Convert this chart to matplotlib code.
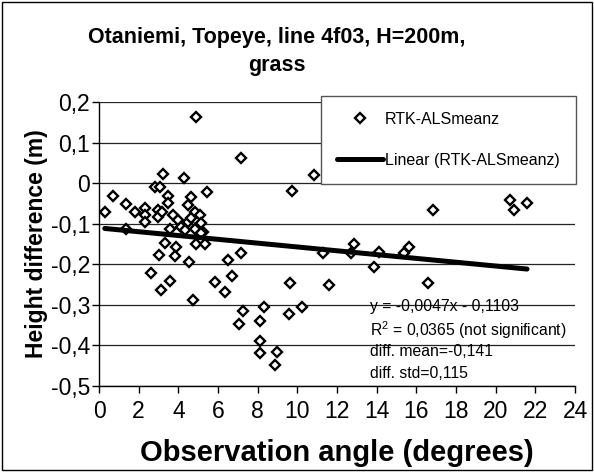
import matplotlib
matplotlib.use("Agg")
import matplotlib.pyplot as plt
from matplotlib.ticker import FuncFormatter, MultipleLocator
from matplotlib.patches import Rectangle
import numpy as np

plt.rcParams['font.family'] = ['Liberation Sans', 'DejaVu Sans']
plt.rcParams['mathtext.fontset'] = 'custom'
plt.rcParams['mathtext.rm'] = 'Liberation Sans'

# observation angle (deg) and RTK-ALS height difference (m)
angle = [0.29, 0.71, 1.38, 1.38, 1.8, 2.3, 2.3, 2.3, 2.8, 3.06,
         3.25, 2.95, 2.95, 3.48, 3.48, 3.2, 3.73, 3.98, 4.27, 4.65,
         4.48, 4.82, 4.9, 5.46, 5.07, 4.48, 5.16, 3.56, 4.15, 4.32,
         4.82, 5.24, 4.65, 3.35, 3.9, 3.81, 3.0, 4.53, 4.9, 5.32,
         5.16, 6.5, 3.56, 3.14, 5.83, 6.33, 4.74, 2.6, 7.17, 10.83,
         9.74, 7.17, 6.7, 7.25, 7.04, 8.31, 8.1, 8.13, 8.1, 8.97,
         8.85, 9.64, 9.57, 10.25, 11.59, 11.29, 12.71, 12.85, 13.89, 14.14,
         15.62, 15.4, 16.61, 16.83, 20.72, 20.94, 21.58]
diff = [-0.070, -0.031, -0.051, -0.112, -0.070, -0.062, -0.079, -0.096, -0.009, -0.009,
        0.023, -0.065, -0.083, -0.031, -0.050, -0.070, -0.079, -0.091, 0.012, -0.035,
        -0.054, -0.070, 0.163, -0.021, -0.079, -0.095, -0.099, -0.112, -0.107, -0.116,
        -0.112, -0.120, -0.087, -0.148, -0.157, -0.180, -0.176, -0.195, -0.149, -0.150,
        -0.124, -0.189, -0.240, -0.264, -0.244, -0.268, -0.289, -0.221, 0.061, 0.020,
        -0.020, -0.172, -0.229, -0.314, -0.346, -0.305, -0.339, -0.388, -0.419, -0.415,
        -0.448, -0.245, -0.323, -0.305, -0.250, -0.172, -0.172, -0.150, -0.206, -0.169,
        -0.157, -0.172, -0.245, -0.065, -0.042, -0.065, -0.050]

slope = -0.0047
intercept = -0.1103
stats_text = ['y = -0,0047x - 0,1103',
              'R$^2$ = 0,0365 (not significant)',
              'diff. mean=-0,141',
              'diff. std=0,115']

W, H = 594, 472
fig = plt.figure(figsize=(W / 100, H / 100), dpi=100)
ax = fig.add_axes([99 / W, 1 - 386 / H, 476 / W, 284 / H])

ax.plot(angle, diff, linestyle='none', marker='D', ms=4.8, mfc='white',
        mec='black', mew=1.7, label='RTK-ALSmeanz', zorder=3)
xs = np.array([min(angle), max(angle)])
ax.plot(xs, slope * xs + intercept, color='black', lw=3.6,
        solid_capstyle='round', label='Linear (RTK-ALSmeanz)', zorder=4)

ax.set_xlim(0, 24)
ax.set_ylim(-0.5, 0.2)
ax.xaxis.set_major_locator(MultipleLocator(2))
ax.yaxis.set_major_locator(MultipleLocator(0.1))


def comma(v, pos):
    if abs(v) < 1e-9:
        return '0'
    return ('%.1f' % v).replace('.', ',')


ax.yaxis.set_major_formatter(FuncFormatter(comma))
ax.grid(axis='y', color='#222222', lw=0.9)
ax.set_axisbelow(True)
for s in ['top', 'right']:
    ax.spines[s].set_visible(False)
for s in ['left', 'bottom']:
    ax.spines[s].set_linewidth(1.0)
ax.tick_params(direction='out', length=5, width=1, labelsize=16.5)
ax.tick_params(axis='y', pad=1.5)
ax.tick_params(axis='x', pad=5)

ax.set_xlabel('Observation angle (degrees)', fontsize=21, fontweight='bold', va='center')
ax.xaxis.set_label_coords(0.5, (386 - 453) / 284)
ax.set_ylabel('Height difference (m)', fontsize=16.5, fontweight='bold', va='center')
ax.yaxis.set_label_coords((37 - 99) / 476, 0.5)

fig.text(277 / W, 1 - 37 / H, 'Otaniemi, Topeye, line 4f03, H=200m,',
         ha='center', va='center', fontsize=15.5, fontweight='bold')
fig.text(277 / W, 1 - 65 / H, 'grass',
         ha='center', va='center', fontsize=15.5, fontweight='bold')

leg = ax.legend(loc='upper left', bbox_to_anchor=(321 / W, 1 - 96 / H),
                bbox_transform=fig.transFigure, fontsize=11.5, frameon=True,
                fancybox=False, edgecolor='#555555', framealpha=1,
                borderpad=1.0, labelspacing=1.6, handlelength=2.9,
                handletextpad=0.12, borderaxespad=0)
leg.get_frame().set_linewidth(1.0)

for t, yp in zip(stats_text, [306, 330, 351, 373]):
    fig.text(370 / W, 1 - yp / H, t, ha='left', va='center', fontsize=11.3)

fig.patches.append(Rectangle((2 / W, 2 / H), 590 / W, 468 / H, transform=fig.transFigure,
                             fill=False, edgecolor='black', lw=1.0))

fig.savefig('out.png', dpi=100)
